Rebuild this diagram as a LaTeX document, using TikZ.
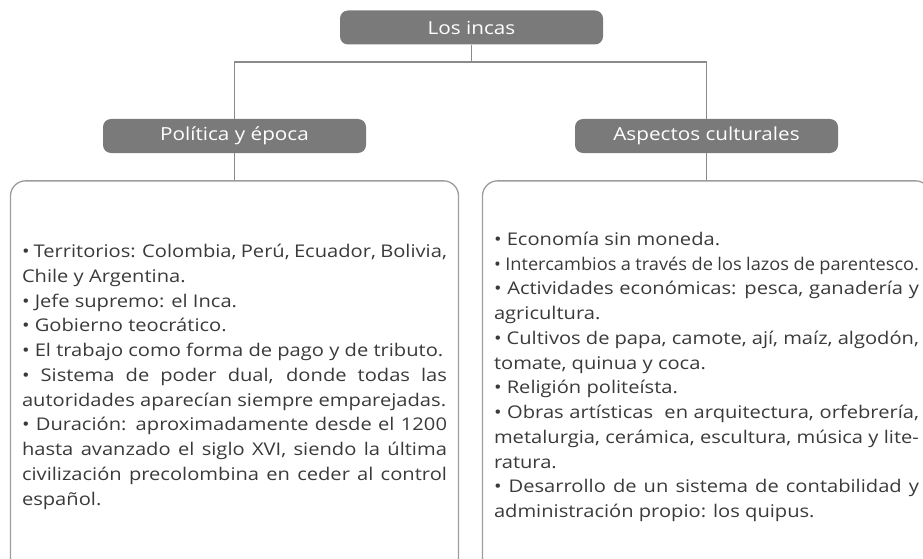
\documentclass[tikz,border=0pt]{standalone}
\usepackage{fontspec}
\setmainfont{Open Sans}
\newfontfamily\wideFace[FakeStretch=1.15]{Open Sans}
\newfontfamily\narrowFace[FakeStretch=1.04]{Open Sans}
\usetikzlibrary{positioning}
\definecolor{headGray}{HTML}{7A7A7A}
\definecolor{lineGray}{HTML}{8A8A8A}
\definecolor{frameGray}{HTML}{9C9C9C}
\definecolor{bodyGray}{HTML}{3A3A3A}
\newcommand{\boxFont}{\wideFace\fontsize{17.5}{24.75}\selectfont\hyphenpenalty=10000\hbadness=10000\parindent=0pt}

\begin{document}
\begin{tikzpicture}[x=1pt,y=-1pt,
  header/.style={draw=none,fill=headGray,text=white,rounded corners=8pt,
    minimum width=263pt,minimum height=34pt,font=\wideFace\fontsize{18}{20}\selectfont},
  infobox/.style={draw=frameGray,line width=1.3pt,rounded corners=15pt,
    text width=425pt,inner xsep=11.5pt,minimum height=392pt,align=justify,
    text=bodyGray,font=\boxFont},
  branch/.style={draw=lineGray,line width=1.5pt}]
% Page
\useasboundingbox (0,0) rectangle (923,559);
\clip (0,0) rectangle (923,559);
% Titles
\node[header] (incas)    at (471.5,27.5) {Los incas};
\node[header] (politica) at (234.5,136)  {Política y época};
\node[header] (cultura)  at (706.5,136)  {Aspectos culturales};
% Text boxes
\node[infobox,below=27pt of politica] (politicaBox) {%
• Territorios: Colombia, Perú, Ecuador, Bolivia,\linebreak Chile y Argentina.\par
• Jefe supremo: el Inca.\par
• Gobierno teocrático.\par
• El trabajo como forma de pago y de tributo.\par
• Sistema de poder dual, donde todas las\linebreak autoridades aparecían siempre emparejadas.\par
• Duración: aproximadamente desde el 1200\linebreak hasta avanzado el siglo XVI, siendo la última\linebreak civilización precolombina en ceder al control\linebreak español.\par};
\node[infobox,below=27pt of cultura] (culturaBox) {%
• Economía sin moneda.\par
\makebox[\linewidth][s]{\narrowFace\spaceskip=0.1em plus 1em\relax • Intercambios a través de los lazos de parentesco.}\par
• Actividades económicas: pesca, ganadería y\linebreak agricultura.\par
• Cultivos de papa, camote, ají, maíz, algodón,\linebreak tomate, quinua y coca.\par
• Religión politeísta.\par
• Obras artísticas~ en arquitectura, orfebrería,\linebreak metalurgia, cerámica, escultura, música y lite-\linebreak ratura.\par
• Desarrollo de un sistema de contabilidad y\linebreak administración propio: los quipus.\par};
% Connectors
\coordinate (fork) at (471.5,62);
\draw[branch] (incas.south) -- (fork);
\draw[branch] (fork) -| (politica.north);
\draw[branch] (fork) -| (cultura.north);
\draw[branch] (politica.south) -- (politicaBox.north);
\draw[branch] (cultura.south) -- (culturaBox.north);
\end{tikzpicture}
\end{document}
